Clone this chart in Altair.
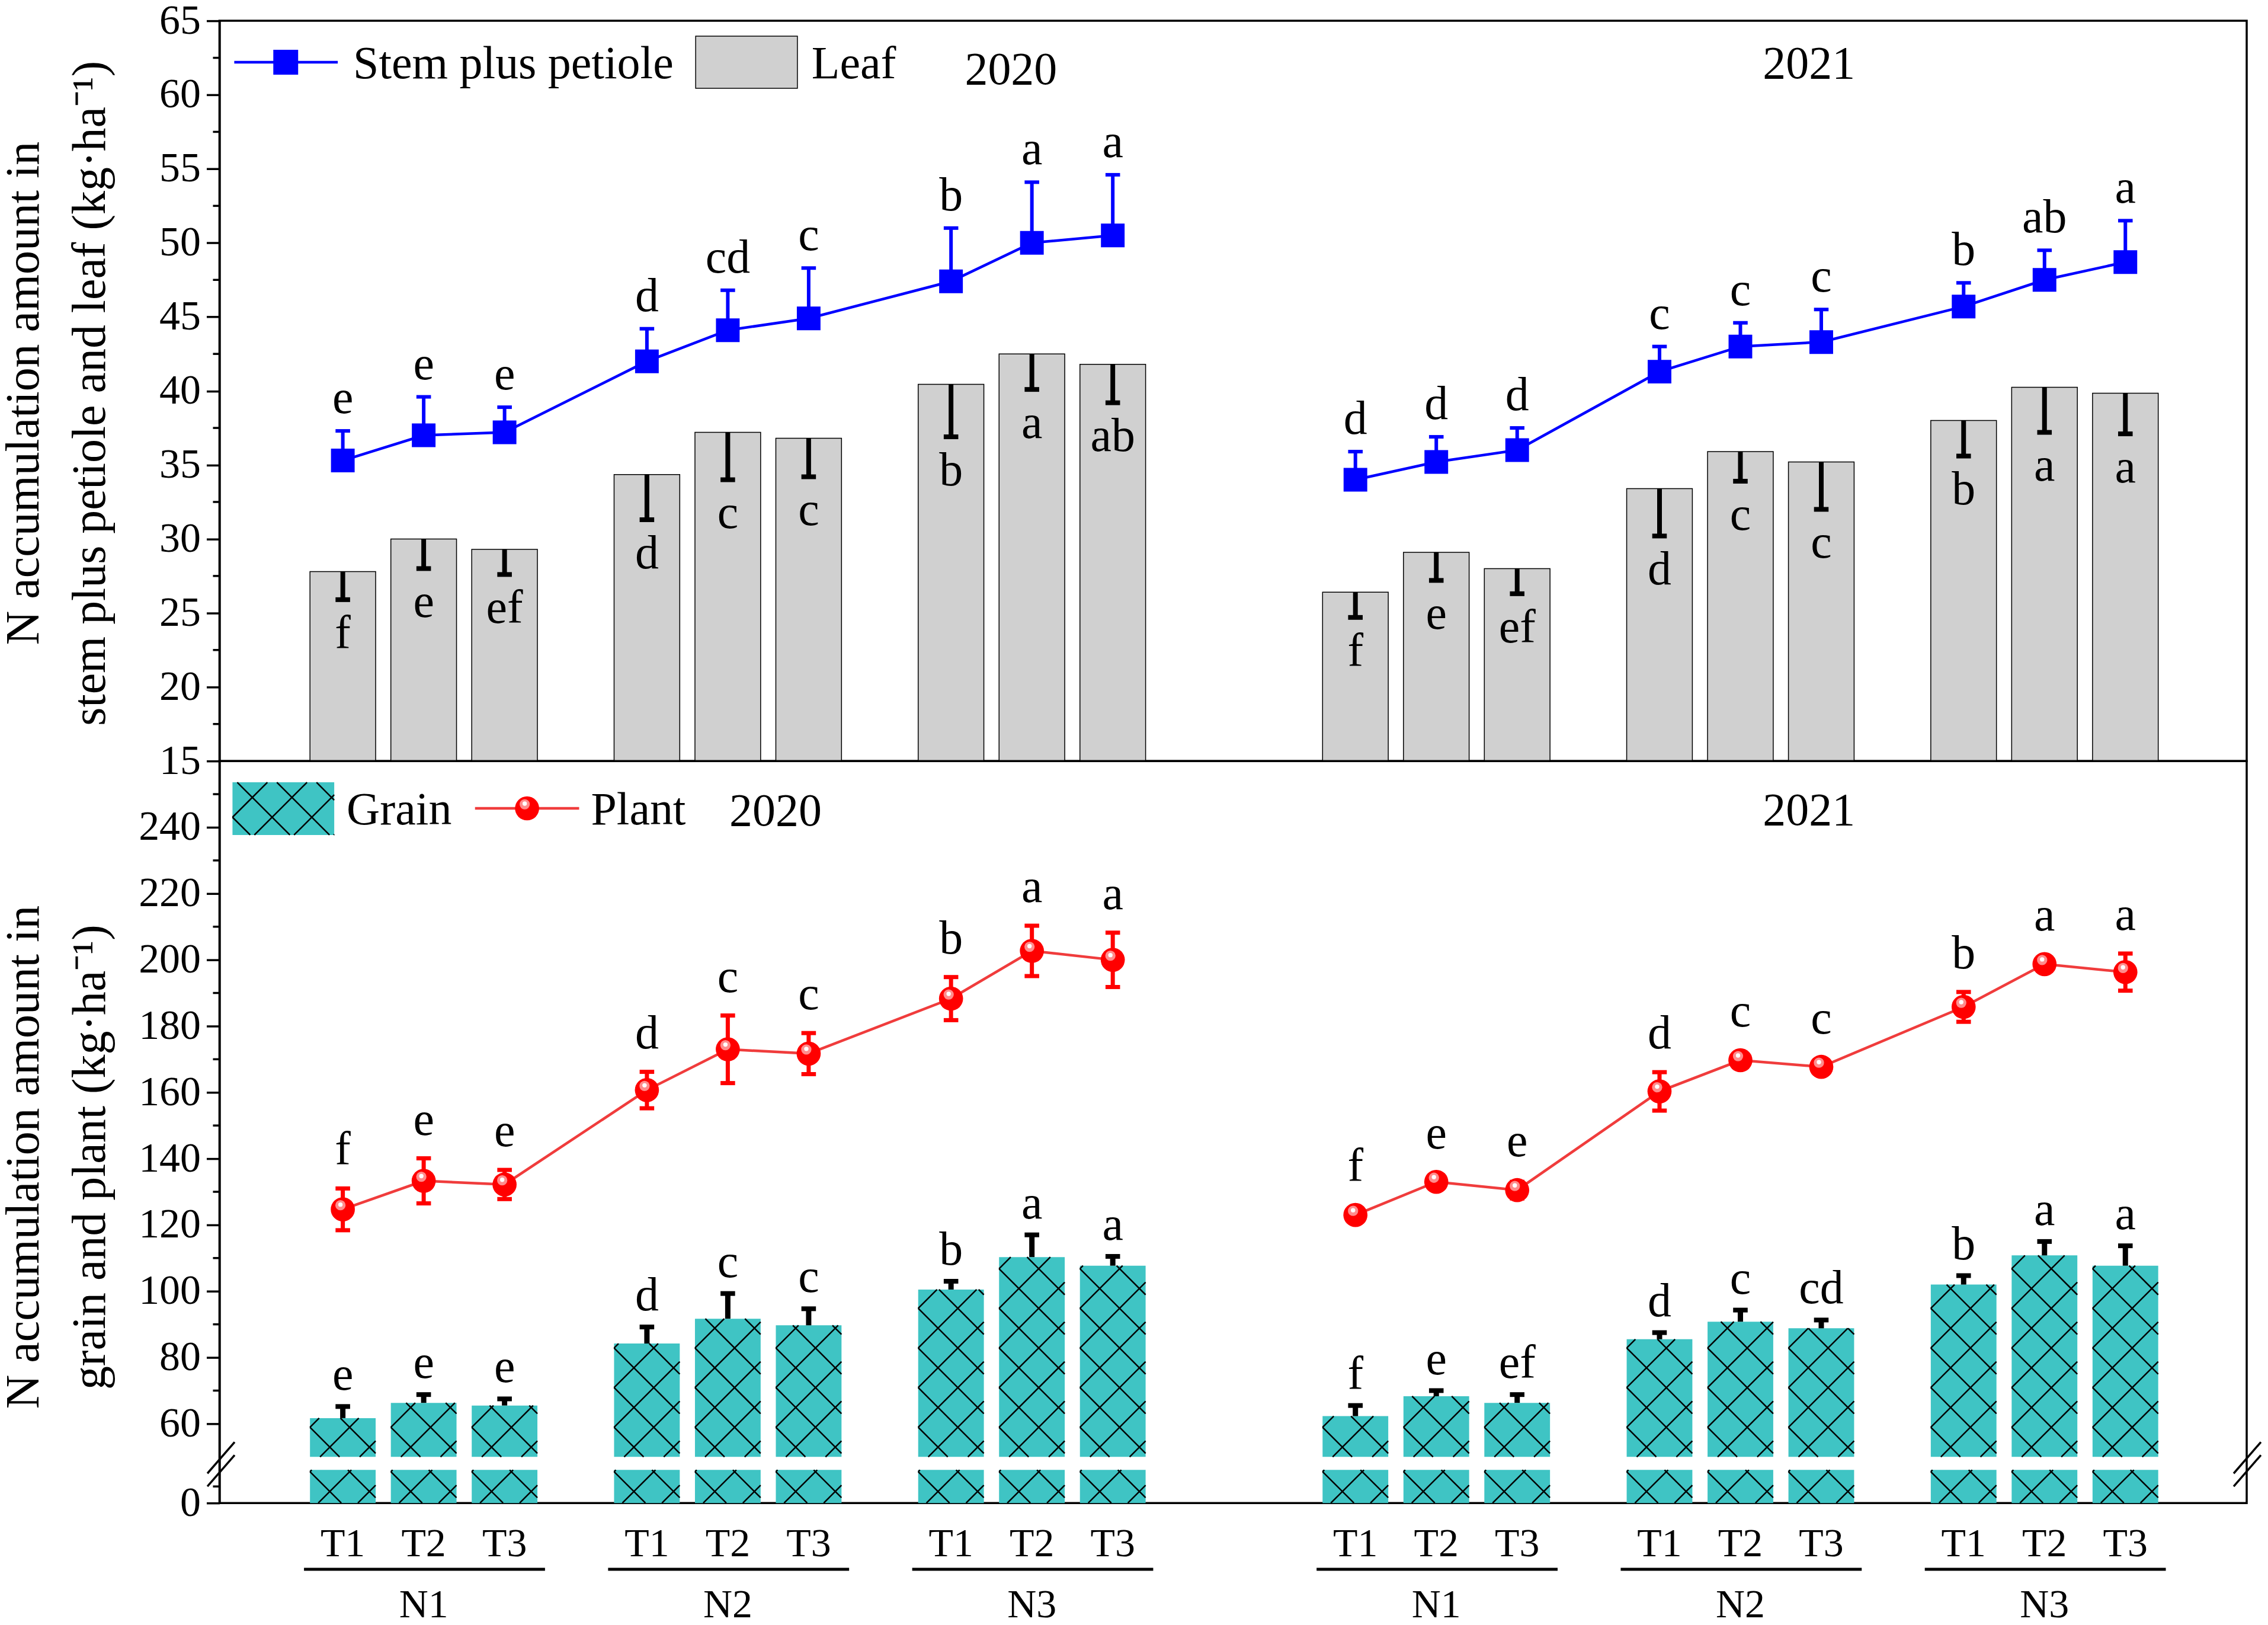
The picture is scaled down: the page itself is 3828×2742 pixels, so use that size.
import altair as alt
import numpy as np
import pandas as pd

FONT = "Liberation Serif"

# ---------------- data ----------------
YEARS = ["2020", "2021"]
N_LEVELS = ["N1", "N2", "N3"]
TREATS = ["T1", "T2", "T3"]

STEM_2020 = [35.3, 37.0, 37.2, 42.0, 44.1, 44.9, 47.4, 50.0, 50.5]
STEM_2020_SD = [2.0, 2.6, 1.7, 2.2, 2.7, 3.4, 3.6, 4.1, 4.1]
STEM_2021 = [34.0, 35.2, 36.0, 41.3, 43.0, 43.3, 45.7, 47.5, 48.7]
STEM_2021_SD = [1.9, 1.7, 1.5, 1.7, 1.6, 2.2, 1.6, 2.0, 2.8]
STEM_LAB_2020 = ["e", "e", "e", "d", "cd", "c", "b", "a", "a"]
STEM_LAB_2021 = ["d", "d", "d", "c", "c", "c", "b", "ab", "a"]

LEAF_2020 = [27.8, 30.0, 29.3, 34.35, 37.2, 36.8, 40.45, 42.5, 41.8]
LEAF_2020_SD = [1.9, 2.0, 1.7, 3.05, 3.2, 2.6, 3.55, 2.4, 2.6]
LEAF_2021 = [26.4, 29.1, 28.0, 33.4, 35.9, 35.2, 38.0, 40.25, 39.85]
LEAF_2021_SD = [1.7, 1.9, 1.7, 3.2, 2.0, 3.2, 2.4, 3.05, 2.75]
LEAF_LAB_2020 = ["f", "e", "ef", "d", "c", "c", "b", "a", "ab"]
LEAF_LAB_2021 = ["f", "e", "ef", "d", "c", "c", "b", "a", "a"]

GRAIN_2020 = [61.7, 66.3, 65.5, 84.2, 91.7, 89.7, 100.5, 110.3, 107.7]
GRAIN_2020_SD = [3.5, 2.5, 2.0, 5.0, 7.6, 5.0, 2.5, 6.7, 2.8]
GRAIN_2021 = [62.3, 68.3, 66.3, 85.5, 90.8, 88.8, 102.0, 110.8, 107.7]
GRAIN_2021_SD = [3.2, 1.7, 2.5, 2.0, 3.5, 2.5, 2.7, 4.2, 6.0]
GRAIN_LAB_2020 = ["e", "e", "e", "d", "c", "c", "b", "a", "a"]
GRAIN_LAB_2021 = ["f", "e", "ef", "d", "c", "cd", "b", "a", "a"]

PLANT_2020 = [124.7, 133.3, 132.2, 160.7, 173.0, 171.7, 188.3, 202.7, 200.0]
PLANT_2020_SD = [6.3, 6.8, 4.4, 5.5, 10.2, 6.2, 6.5, 7.6, 8.2]
PLANT_2021 = [123.0, 133.0, 130.5, 160.3, 169.7, 167.7, 185.8, 198.7, 196.3]
PLANT_2021_SD = [1.5, 1.5, 2.5, 5.8, 2.0, 1.5, 4.5, 2.0, 5.6]
PLANT_LAB_2020 = ["f", "e", "e", "d", "c", "c", "b", "a", "a"]
PLANT_LAB_2021 = ["f", "e", "e", "d", "c", "c", "b", "a", "a"]

TOP_TICKS = [15, 20, 25, 30, 35, 40, 45, 50, 55, 60, 65]
TOP_MINOR = [17.5, 22.5, 27.5, 32.5, 37.5, 42.5, 47.5, 52.5, 57.5, 62.5]
BOT_TICKS = [0, 60, 80, 100, 120, 140, 160, 180, 200, 220, 240]
BOT_MINOR = [5, 70, 90, 110, 130, 150, 170, 190, 210, 230, 250]

TOP_TITLE = ["N accumulation amount in", "stem plus petiole and leaf (kg·ha⁻¹)"]
BOT_TITLE = ["N accumulation amount in", "grain and plant (kg·ha⁻¹)"]
TOP_LEGEND = ["Stem plus petiole", "Leaf"]
BOT_LEGEND = ["Grain", "Plant"]

# ---------------- layout ----------------
W = 3427
H_TOP = 1251
H_BOT = 1254
GROUP_STEP = 3.76
YEAR_STEP = 12.52
XMIN, XMAX = -1.525, 23.54
PXX = W / (XMAX - XMIN)
PXY = 5.6  # px per unit in bottom panel
BAR_HALF = 0.406
CAP_HALF = 0.09

BLUE = "#0000ff"
RED = "#ff0000"
LINE_RED = "#f03c3c"
TEAL = "#3fc4c4"
GREY = "#d0d0d0"

series = {
    "2020": dict(stem=STEM_2020, stem_sd=STEM_2020_SD, stem_lab=STEM_LAB_2020,
                 leaf=LEAF_2020, leaf_sd=LEAF_2020_SD, leaf_lab=LEAF_LAB_2020,
                 grain=GRAIN_2020, grain_sd=GRAIN_2020_SD, grain_lab=GRAIN_LAB_2020,
                 plant=PLANT_2020, plant_sd=PLANT_2020_SD, plant_lab=PLANT_LAB_2020),
    "2021": dict(stem=STEM_2021, stem_sd=STEM_2021_SD, stem_lab=STEM_LAB_2021,
                 leaf=LEAF_2021, leaf_sd=LEAF_2021_SD, leaf_lab=LEAF_LAB_2021,
                 grain=GRAIN_2021, grain_sd=GRAIN_2021_SD, grain_lab=GRAIN_LAB_2021,
                 plant=PLANT_2021, plant_sd=PLANT_2021_SD, plant_lab=PLANT_LAB_2021),
}

rows = []
for yi, yr in enumerate(YEARS):
    s = series[yr]
    for ni, n in enumerate(N_LEVELS):
        for ti, t in enumerate(TREATS):
            k = ni * 3 + ti
            pos = yi * YEAR_STEP + ni * GROUP_STEP + ti
            rows.append(dict(
                year=yr, N=n, T=t, pos=pos,
                x0=pos - BAR_HALF, x1=pos + BAR_HALF,
                cap_l=pos - CAP_HALF, cap_r=pos + CAP_HALF,
                stem=s["stem"][k], stem_hi=s["stem"][k] + s["stem_sd"][k], stem_lab=s["stem_lab"][k],
                leaf=s["leaf"][k], leaf_lo=s["leaf"][k] - s["leaf_sd"][k], leaf_lab=s["leaf_lab"][k],
                grain=s["grain"][k], grain_hi=s["grain"][k] + s["grain_sd"][k], grain_lab=s["grain_lab"][k],
                plant=s["plant"][k], plant_lo=s["plant"][k] - s["plant_sd"][k],
                plant_hi=s["plant"][k] + s["plant_sd"][k],
                plant_lab_y=s["plant"][k] + max(s["plant_sd"][k], 3.0), plant_lab=s["plant_lab"][k],
            ))
df = pd.DataFrame(rows)

groups = []
for yi, yr in enumerate(YEARS):
    for ni, n in enumerate(N_LEVELS):
        base = yi * YEAR_STEP + ni * GROUP_STEP
        groups.append(dict(N=n, mid=base + 1, xl=base - 0.48, xr=base + 2 + 0.5))
dfg = pd.DataFrame(groups)


def hatch(w, h, spacing=67.0, phase=50.0):
    """diagonal cross-hatch segments in local px (y up) clipped to a w x h box"""
    out = []
    kmin = int(np.floor((-w - phase) / spacing)) - 1
    kmax = int(np.ceil((h + w - phase) / spacing)) + 1
    for sign in (1, -1):
        for k in range(kmin, kmax + 1):
            c = phase + k * spacing
            if sign == 1:
                a, b = max(0.0, -c), min(w, h - c)
            else:
                a, b = max(0.0, c - h), min(w, c)
            if b - a > 0.5:
                out.append((a, sign * a + c, b, sign * b + c))
    return out


hrows = []
for r in rows:
    w = (r["x1"] - r["x0"]) * PXX
    for lo, hi, ph in ((50.0, r["grain"], 50.0), (0.0, 10.0, 53.0)):
        for (a, pa, b, pb) in hatch(w, (hi - lo) * PXY, phase=ph):
            hrows.append(dict(hx1=r["x0"] + a / PXX, hy1=lo + pa / PXY,
                              hx2=r["x0"] + b / PXX, hy2=lo + pb / PXY))
dfh = pd.DataFrame(hrows)

# legend hatch (pixel coordinates inside bottom panel)
LG = dict(x=22, y=36, w=172, h=89)
lrows = []
for (a, pa, b, pb) in hatch(LG["w"], LG["h"], phase=30.0):
    lrows.append(dict(px1=LG["x"] + a, py1=LG["y"] + LG["h"] - pa,
                      px2=LG["x"] + b, py2=LG["y"] + LG["h"] - pb))
dflh = pd.DataFrame(lrows)

one = pd.DataFrame({"k": [0]})

# ---------------- scales / axes ----------------
xs = alt.Scale(domain=[XMIN, XMAX], nice=False, zero=False)


def X(f):
    return alt.X(f, type="quantitative", scale=xs, axis=None)


axis_common = dict(
    grid=False, domainColor="black", domainWidth=3.5, tickColor="black", tickWidth=3.5,
    tickSize=22, labelFontSize=70, labelColor="black", labelPadding=10, labelFont=FONT,
    titleFont=FONT, titleFontSize=80, titleFontWeight="normal", titleColor="black",
    titleAngle=270, titleAlign="center", titleBaseline="alphabetic", titleLineHeight=112,
    titleX=-306,
)

yts = alt.Scale(domain=[15, 65], nice=False, zero=False)
yax_t = alt.Axis(values=TOP_TICKS, title=TOP_TITLE, titleY=629, **axis_common)

ybs = alt.Scale(domain=[0, 10, 50, 260], range=[H_BOT, H_BOT - 56, H_BOT - 78, 0],
                nice=False, zero=False)
yax_b = alt.Axis(values=BOT_TICKS, title=BOT_TITLE, titleY=669, **axis_common)


def YT(f):
    return alt.Y(f, type="quantitative", scale=yts, axis=yax_t)


def YB(f):
    return alt.Y(f, type="quantitative", scale=ybs, axis=yax_b)


# ---------------- top panel ----------------
t_leaf = alt.Chart(df).mark_bar(fill=GREY, stroke="black", strokeWidth=1.5).encode(
    x=X("x0"), x2="x1", y=YT("leaf"), y2=alt.datum(15))
t_leaf_err = alt.Chart(df).mark_rule(color="black", strokeWidth=8).encode(
    x=X("pos"), y=YT("leaf"), y2="leaf_lo")
t_leaf_cap = alt.Chart(df).mark_rule(color="black", strokeWidth=8).encode(
    x=X("cap_l"), x2="cap_r", y=YT("leaf_lo"))
t_leaf_lab = alt.Chart(df).mark_text(font=FONT, fontSize=80, baseline="alphabetic", dy=82,
                                     color="black").encode(
    x=X("pos"), y=YT("leaf_lo"), text="leaf_lab:N")
t_line = alt.Chart(df).mark_line(color=BLUE, strokeWidth=4.5).encode(
    x=X("pos"), y=YT("stem"), detail="year:N", order="pos:Q")
t_err = alt.Chart(df).mark_rule(color=BLUE, strokeWidth=6).encode(
    x=X("pos"), y=YT("stem"), y2="stem_hi")
t_cap = alt.Chart(df).mark_rule(color=BLUE, strokeWidth=6).encode(
    x=X("cap_l"), x2="cap_r", y=YT("stem_hi"))
t_pts = alt.Chart(df).mark_square(size=1600, color=BLUE, opacity=1, filled=True).encode(
    x=X("pos"), y=YT("stem"))
t_lab = alt.Chart(df).mark_text(font=FONT, fontSize=80, baseline="alphabetic", dy=-30,
                                color="black").encode(
    x=X("pos"), y=YT("stem_hi"), text="stem_lab:N")
t_minor = alt.Chart(pd.DataFrame({"v": TOP_MINOR})).mark_rule(color="black", strokeWidth=3.5).encode(
    y=YT("v"), x=alt.value(-11), x2=alt.value(0))

# legend top
tl_line = alt.Chart(one).mark_rule(color=BLUE, strokeWidth=4.5).encode(
    x=alt.value(25), x2=alt.value(200), y=alt.value(70))
tl_sq = alt.Chart(one).mark_square(size=1764, color=BLUE, opacity=1, filled=True).encode(
    x=alt.value(112), y=alt.value(70))
tl_t1 = alt.Chart(pd.DataFrame({"s": [TOP_LEGEND[0]]})).mark_text(
    font=FONT, fontSize=78, baseline="alphabetic", align="left", color="black").encode(
    x=alt.value(226), y=alt.value(97), text="s:N")
tl_box = alt.Chart(one).mark_rect(fill=GREY, stroke="black", strokeWidth=1.5).encode(
    x=alt.value(805), x2=alt.value(977), y=alt.value(26), y2=alt.value(114))
tl_t2 = alt.Chart(pd.DataFrame({"s": [TOP_LEGEND[1]]})).mark_text(
    font=FONT, fontSize=78, baseline="alphabetic", align="left", color="black").encode(
    x=alt.value(1001), y=alt.value(97), text="s:N")
tl_y1 = alt.Chart(pd.DataFrame({"s": [YEARS[0]]})).mark_text(
    font=FONT, fontSize=78, baseline="alphabetic", align="center", color="black").encode(
    x=alt.value(1338), y=alt.value(107), text="s:N")
tl_y2 = alt.Chart(pd.DataFrame({"s": [YEARS[1]]})).mark_text(
    font=FONT, fontSize=78, baseline="alphabetic", align="center", color="black").encode(
    x=alt.value(2687), y=alt.value(97), text="s:N")

top = alt.layer(
    t_leaf, t_leaf_err, t_leaf_cap, t_leaf_lab, t_line, t_err, t_cap, t_pts, t_lab, t_minor,
    tl_line, tl_sq, tl_t1, tl_box, tl_t2, tl_y1, tl_y2,
).properties(width=W, height=H_TOP)

# ---------------- bottom panel ----------------
b_grain = alt.Chart(df).mark_bar(fill=TEAL, strokeWidth=0).encode(
    x=X("x0"), x2="x1", y=YB("grain"), y2=alt.datum(50))
b_stub = alt.Chart(df).mark_bar(fill=TEAL, strokeWidth=0).encode(
    x=X("x0"), x2="x1", y=alt.Y(datum=10, type="quantitative", scale=ybs, axis=yax_b), y2=alt.datum(0))
b_hatch = alt.Chart(dfh).mark_rule(color="black", strokeWidth=2.5).encode(
    x=X("hx1"), x2="hx2", y=YB("hy1"), y2="hy2")
b_gerr = alt.Chart(df).mark_rule(color="black", strokeWidth=9).encode(
    x=X("pos"), y=YB("grain"), y2="grain_hi")
b_gcap = alt.Chart(df).mark_rule(color="black", strokeWidth=8).encode(
    x=X("cap_l"), x2="cap_r", y=YB("grain_hi"))
b_glab = alt.Chart(df).mark_text(font=FONT, fontSize=80, baseline="alphabetic", dy=-28,
                                 color="black").encode(
    x=X("pos"), y=YB("grain_hi"), text="grain_lab:N")
b_line = alt.Chart(df).mark_line(color=LINE_RED, strokeWidth=4.5).encode(
    x=X("pos"), y=YB("plant"), detail="year:N", order="pos:Q")
b_perr = alt.Chart(df).mark_rule(color=RED, strokeWidth=7).encode(
    x=X("pos"), y=YB("plant_lo"), y2="plant_hi")
b_pcap_hi = alt.Chart(df).mark_rule(color=RED, strokeWidth=7).encode(
    x=X("cap_l"), x2="cap_r", y=YB("plant_hi"))
b_pcap_lo = alt.Chart(df).mark_rule(color=RED, strokeWidth=7).encode(
    x=X("cap_l"), x2="cap_r", y=YB("plant_lo"))
b_pts = alt.Chart(df).mark_circle(size=1660, color=RED, opacity=1).encode(
    x=X("pos"), y=YB("plant"))
b_hl1 = alt.Chart(df).mark_circle(size=300, color="#ff8c8c", opacity=1, xOffset=-4, yOffset=-7).encode(
    x=X("pos"), y=YB("plant"))
b_hl2 = alt.Chart(df).mark_circle(size=55, color="white", opacity=1, xOffset=-4, yOffset=-8).encode(
    x=X("pos"), y=YB("plant"))
b_plab = alt.Chart(df).mark_text(font=FONT, fontSize=80, baseline="alphabetic", dy=-40,
                                 color="black").encode(
    x=X("pos"), y=YB("plant_lab_y"), text="plant_lab:N")
b_minor = alt.Chart(pd.DataFrame({"v": BOT_MINOR})).mark_rule(color="black", strokeWidth=3.5).encode(
    y=YB("v"), x=alt.value(-11), x2=alt.value(0))

b_tlab = alt.Chart(df).mark_text(font=FONT, fontSize=68, baseline="alphabetic", color="black").encode(
    x=X("pos"), y=alt.value(1344), text="T:N")
b_uline = alt.Chart(dfg).mark_rule(color="black", strokeWidth=5).encode(
    x=X("xl"), x2="xr", y=alt.value(1366))
b_nlab = alt.Chart(dfg).mark_text(font=FONT, fontSize=68, baseline="alphabetic", color="black").encode(
    x=X("mid"), y=alt.value(1447), text="N:N")

# broken-axis marks
slashes = []
for xa in (-20.4, W - 22):
    for dy in (0, 22):
        slashes.append(alt.Chart(one).mark_rule(color="black", strokeWidth=3.5).encode(
            x=alt.value(xa), x2=alt.value(xa + 46), y=alt.value(1204 + dy), y2=alt.value(1151 + dy)))

# legend bottom
bl_box = alt.Chart(one).mark_rect(fill=TEAL).encode(
    x=alt.value(LG["x"]), x2=alt.value(LG["x"] + LG["w"]), y=alt.value(LG["y"]),
    y2=alt.value(LG["y"] + LG["h"]))
bl_hatch = alt.Chart(dflh).mark_rule(color="black", strokeWidth=2.5).encode(
    x=alt.X("px1:Q", scale=None), x2="px2:Q", y=alt.Y("py1:Q", scale=None), y2="py2:Q")
bl_t1 = alt.Chart(pd.DataFrame({"s": [BOT_LEGEND[0]]})).mark_text(
    font=FONT, fontSize=78, baseline="alphabetic", align="left", color="black").encode(
    x=alt.value(215), y=alt.value(107), text="s:N")
bl_line = alt.Chart(one).mark_rule(color=LINE_RED, strokeWidth=4.5).encode(
    x=alt.value(432), x2=alt.value(608), y=alt.value(80))
bl_pt = alt.Chart(one).mark_circle(size=1660, color=RED, opacity=1).encode(
    x=alt.value(520), y=alt.value(80))
bl_hl1 = alt.Chart(one).mark_circle(size=300, color="#ff8c8c", opacity=1).encode(
    x=alt.value(516), y=alt.value(73))
bl_hl2 = alt.Chart(one).mark_circle(size=55, color="white", opacity=1).encode(
    x=alt.value(516), y=alt.value(72))
bl_t2 = alt.Chart(pd.DataFrame({"s": [BOT_LEGEND[1]]})).mark_text(
    font=FONT, fontSize=78, baseline="alphabetic", align="left", color="black").encode(
    x=alt.value(628), y=alt.value(107), text="s:N")
bl_y1 = alt.Chart(pd.DataFrame({"s": [YEARS[0]]})).mark_text(
    font=FONT, fontSize=78, baseline="alphabetic", align="center", color="black").encode(
    x=alt.value(940), y=alt.value(109), text="s:N")
bl_y2 = alt.Chart(pd.DataFrame({"s": [YEARS[1]]})).mark_text(
    font=FONT, fontSize=78, baseline="alphabetic", align="center", color="black").encode(
    x=alt.value(2687), y=alt.value(108), text="s:N")

bottom = alt.layer(
    b_grain, b_stub, b_hatch, b_gerr, b_gcap, b_glab, b_line, b_perr, b_pcap_hi, b_pcap_lo,
    b_pts, b_hl1, b_hl2, b_plab, b_minor, b_tlab, b_uline, b_nlab, *slashes,
    bl_box, bl_hatch, bl_t1, bl_line, bl_pt, bl_hl1, bl_hl2, bl_t2, bl_y1, bl_y2,
).properties(width=W, height=H_BOT)

chart = alt.vconcat(top, bottom, spacing=0, bounds="flush").properties(
    padding={"left": -9, "top": -12, "right": 0, "bottom": 0}
).configure(font=FONT).configure_view(stroke="black", strokeWidth=3.5)

chart.save("out.html", embed_options={"renderer": "svg", "actions": False})
